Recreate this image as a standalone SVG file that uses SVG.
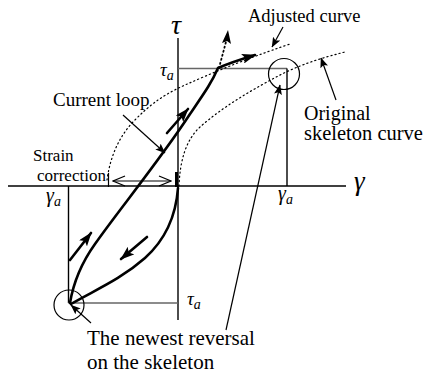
<svg xmlns="http://www.w3.org/2000/svg" width="425" height="378" viewBox="0 0 425 378">
<defs>
<style>
.ax{stroke:#000;stroke-width:1.4;fill:none}
.gr{stroke:#666;stroke-width:1.3;fill:none}
.loop{stroke:#000;stroke-width:2.6;fill:none;stroke-linecap:round}
.dot{stroke:#000;stroke-width:1.2;fill:none;stroke-dasharray:1.2 3;stroke-linecap:round}
.thin{stroke:#000;stroke-width:1.2;fill:none}
.lbl{font-family:"Liberation Serif","Times New Roman",serif;fill:#000}
.gk{font-family:"Liberation Serif","Times New Roman",serif;font-style:italic;fill:#000}
</style>
<marker id="big" viewBox="0 0 14 10" refX="13" refY="5" markerWidth="14" markerHeight="10" markerUnits="userSpaceOnUse" orient="auto"><path d="M0,0 L14,5 L0,10 L3,5 z" fill="#000"/></marker>
<marker id="sm" viewBox="0 0 10 8" refX="9.5" refY="4" markerWidth="10" markerHeight="8" markerUnits="userSpaceOnUse" orient="auto"><path d="M0,0 L10,4 L0,8 L2,4 z" fill="#000"/></marker>
<marker id="open" viewBox="0 0 14 12" refX="13" refY="6" markerWidth="14" markerHeight="12" markerUnits="userSpaceOnUse" orient="auto-start-reverse"><path d="M1,1 L13,6 L1,11" fill="none" stroke="#000" stroke-width="1.3"/></marker>
</defs>
<rect width="425" height="378" fill="#fff"/>
<g id="axes">
<line class="ax" x1="8" y1="186" x2="346" y2="186"/>
<line class="ax" x1="178" y1="38" x2="178" y2="320"/>
<line class="gr" x1="178" y1="68.5" x2="287" y2="68.5"/>
<line class="ax" x1="287" y1="68.5" x2="287" y2="186"/>
<line class="ax" x1="68.5" y1="186" x2="68.5" y2="303"/>
<line class="gr" x1="68.5" y1="303" x2="178" y2="303"/>
<text class="gk" x="171" y="34" font-size="28">τ</text>
<text class="gk" x="354" y="190" font-size="27">γ</text>
<text class="gk" x="160" y="76" font-size="19">τ<tspan font-size="14" dy="4">a</tspan></text>
<text class="gk" x="187" y="305" font-size="19">τ<tspan font-size="14" dy="4">a</tspan></text>
<text class="gk" x="46" y="202" font-size="20">γ<tspan font-size="14" dy="4">a</tspan></text>
<text class="gk" x="278" y="200" font-size="20">γ<tspan font-size="14" dy="4">a</tspan></text>
</g>
<g id="skeleton">
<path class="dot" d="M179,186 C180,160 186,140 200,127 C225,105 255,88 284,73 C305,63 325,57 345,52"/>
</g>
<g id="adjusted">
<path class="dot" d="M107,180 C110,158 118,138 133,122 C150,104 165,94 185,85 C210,74 240,61 290,44"/>
</g>
<g id="loop">
<path class="loop" d="M70,303 C73,285 80,265 95,244 C115,215 160,160 190,114 C205,92 212,82 218,68 Q232,62 255,55" marker-end="url(#big)"/>
<path class="loop" d="M71,304 C95,290 120,280 145,258 C165,240 176,215 178,188"/>
<line x1="176.5" y1="172" x2="176.5" y2="187" stroke="#000" stroke-width="3"/>
</g>
<g id="reversal-top"><circle class="thin" cx="284" cy="74" r="15.5"/></g>
<g id="reversal-bottom"><circle class="thin" cx="69" cy="305" r="15"/></g>
<g id="connectors">
<path class="loop" d="M167,133 L188,109" marker-end="url(#big)"/>
<path class="loop" d="M70,260 L91,233" marker-end="url(#big)"/>
<path class="loop" d="M147,237 L121,259" marker-end="url(#big)"/>
<path class="dot" style="stroke-width:1.8" d="M219,68 L227,38"/>
<path d="M222,43 L228,30 L231,44 L227,41 z" fill="#000"/>
<line class="thin" x1="108.5" y1="173" x2="108.5" y2="187"/>
<line class="thin" x1="113" y1="181" x2="171" y2="181" marker-start="url(#open)" marker-end="url(#open)"/>
<line class="thin" x1="123" y1="115" x2="165" y2="153" marker-end="url(#sm)"/>
<line class="thin" x1="283" y1="27" x2="272" y2="47" marker-end="url(#sm)"/>
<line class="thin" x1="336" y1="100" x2="321" y2="58" marker-end="url(#sm)"/>
<line class="thin" x1="226" y1="330" x2="280" y2="85" marker-end="url(#sm)"/>
<line class="thin" x1="91" y1="323" x2="71" y2="305" marker-end="url(#sm)"/>
</g>
<g id="labels">
<text class="lbl" x="248" y="22" font-size="18.5">Adjusted curve</text>
<text class="lbl" x="53" y="106" font-size="19">Current loop</text>
<text class="lbl" x="33" y="161" font-size="17">Strain</text>
<text class="lbl" x="37" y="181" font-size="17">correction</text>
<text class="lbl" x="304" y="120" font-size="20">Original</text>
<text class="lbl" x="304" y="140" font-size="20.5">skeleton curve</text>
<text class="lbl" x="87" y="345" font-size="21">The newest reversal</text>
<text class="lbl" x="87" y="369" font-size="21">on the skeleton</text>
</g>
</svg>
